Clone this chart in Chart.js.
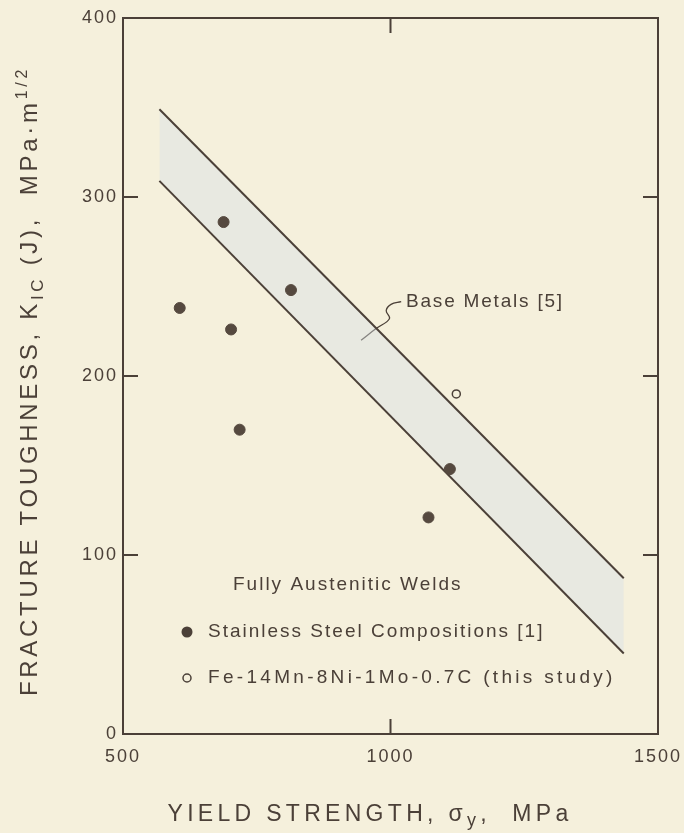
<!DOCTYPE html>
<html>
<head>
<meta charset="utf-8">
<script src="https://cdn.jsdelivr.net/npm/chart.js@4"></script>
<style>
  html, body { margin: 0; padding: 0; background: #f5f0dc; }
  canvas { display: block; }
</style>
</head>
<body>
<canvas id="kicChart" width="684" height="833"></canvas>
<script>
// ---- data ----
const stainlessX = [606, 688, 702, 718, 814, 1071, 1111];
const stainlessY = [238, 286, 226, 170, 248, 121, 148];
const feMnX = [1123];
const feMnY = [190];

// scatter band for base metals (upper / lower bounds)
const bandX = [568, 1436];
const bandUpper = [349, 87];
const bandLower = [309, 45];

// leader from "Base Metals [5]" label into the band
const leaderX = [1020, 1001, 992, 998, 973, 945];
const leaderY = [241.5, 240, 236.5, 232, 226.5, 220];

const xTicks = [500, 1000, 1500];
const yTicks = [0, 100, 200, 300, 400];

const INK = '#4b4038';
const FONT = "'Liberation Sans', Arial, sans-serif";

Chart.defaults.font.family = FONT;
Chart.defaults.color = INK;

const toPts = (xs, ys) => xs.map((x, i) => ({ x: x, y: ys[i] }));

/* -------------------- FRAME, TICKS, TEXT -------------------- */

const framePlugin = {
    id: 'frame',
    beforeDraw(chart) {
        // wider tick digits like the original lettering
        chart.ctx.letterSpacing = '2px';
    },
    afterDraw(chart) {
        const { ctx, chartArea: a, scales: { x, y } } = chart;
        const tick = 15;
        ctx.save();
        ctx.strokeStyle = INK;
        ctx.lineWidth = 2;
        ctx.strokeRect(a.left, a.top, a.right - a.left, a.bottom - a.top);

        // inner ticks
        ctx.beginPath();
        xTicks.slice(1, -1).forEach(v => {
            const px = x.getPixelForValue(v);
            ctx.moveTo(px, a.top); ctx.lineTo(px, a.top + tick);
            ctx.moveTo(px, a.bottom); ctx.lineTo(px, a.bottom - tick);
        });
        yTicks.slice(1, -1).forEach(v => {
            const py = y.getPixelForValue(v);
            ctx.moveTo(a.left, py); ctx.lineTo(a.left + tick, py);
            ctx.moveTo(a.right, py); ctx.lineTo(a.right - tick, py);
        });
        ctx.stroke();

        // legend inside plot
        ctx.fillStyle = INK;
        ctx.textBaseline = 'middle';
        ctx.font = '19px ' + FONT;
        ctx.letterSpacing = '2px';
        ctx.fillText('Fully Austenitic Welds', 233, 585);
        const ds = chart.data.datasets;
        ctx.beginPath(); ctx.arc(187, 632, 5.5, 0, Math.PI * 2); ctx.fill();
        ctx.fillText(ds[0].label, 208, 632);
        ctx.beginPath(); ctx.arc(187, 678, 4, 0, Math.PI * 2);
        ctx.lineWidth = 1.5; ctx.stroke();
        ctx.letterSpacing = '3.3px';
        ctx.fillText(ds[1].label, 208, 678);

        // band label
        ctx.letterSpacing = '1.8px';
        ctx.fillText('Base Metals [5]', 406, 302);

        // x title
        drawParts(ctx, [
            ['YIELD STRENGTH, ', 0, 23],
            ['\u03c3', 0, 23],
            ['y', 5, 18],
            [',  MPa', 0, 23]
        ], 370, 821, '4.3px');

        // y title (rotated)
        ctx.save();
        ctx.translate(37, 381);
        ctx.rotate(-Math.PI / 2);
        drawParts(ctx, [
            ['FRACTURE TOUGHNESS, K', 0, 24],
            ['IC', 6, 17],
            [' (J),  MPa\u00b7m', 0, 24],
            ['1/2', -10, 16]
        ], 0, 0, '3.7px');
        ctx.restore();
        ctx.restore();
        ctx.letterSpacing = '0px';
    }
};

function drawParts(ctx, parts, cx, baseY, spacing) {
    ctx.textBaseline = 'alphabetic';
    ctx.textAlign = 'left';
    ctx.letterSpacing = spacing;
    let total = 0;
    parts.forEach(p => { ctx.font = p[2] + 'px ' + FONT; total += ctx.measureText(p[0]).width; });
    let xPos = cx - total / 2;
    parts.forEach(p => {
        ctx.font = p[2] + 'px ' + FONT;
        ctx.fillText(p[0], xPos, baseY + p[1]);
        xPos += ctx.measureText(p[0]).width;
    });
}

/* -------------------- CHART -------------------- */

new Chart(document.getElementById('kicChart'), {
    type: 'scatter',
    data: {
        datasets: [
            {
                label: 'Stainless Steel Compositions [1]',
                data: toPts(stainlessX, stainlessY),
                backgroundColor: '#55493f',
                borderColor: '#55493f',
                pointRadius: 5.5,
                order: 0
            },
            {
                label: 'Fe-14Mn-8Ni-1Mo-0.7C (this study)',
                data: toPts(feMnX, feMnY),
                backgroundColor: 'rgba(0,0,0,0)',
                borderColor: INK,
                borderWidth: 1.5,
                pointRadius: 4,
                order: 0
            },
            {
                label: 'band upper',
                type: 'line',
                data: toPts(bandX, bandUpper),
                borderColor: INK,
                borderWidth: 2,
                pointRadius: 0,
                fill: false,
                order: 1
            },
            {
                label: 'band lower',
                type: 'line',
                data: toPts(bandX, bandLower),
                borderColor: INK,
                borderWidth: 2,
                pointRadius: 0,
                backgroundColor: 'rgba(214, 224, 230, 0.42)',
                fill: '-1',
                order: 1
            },
            {
                label: 'leader',
                type: 'line',
                data: toPts(leaderX, leaderY),
                borderColor: INK,
                borderWidth: 1.3,
                pointRadius: 0,
                tension: 0.4,
                fill: false,
                order: 1
            }
        ]
    },
    options: {
        responsive: false,
        animation: false,
        layout: { padding: { top: 18, right: 26, left: 0, bottom: 0 } },
        plugins: {
            legend: { display: false },
            tooltip: { enabled: false },
            filler: { propagate: false }
        },
        scales: {
            x: {
                type: 'linear',
                min: 500,
                max: 1500,
                afterBuildTicks: s => { s.ticks = xTicks.map(v => ({ value: v })); },
                afterFit: s => { s.height = 99; s.paddingRight = 0; s.paddingLeft = 0; },
                grid: { display: false, drawTicks: false },
                border: { display: false },
                ticks: { padding: 12, font: { size: 18 }, color: INK, maxRotation: 0, callback: v => String(v) }
            },
            y: {
                type: 'linear',
                min: 0,
                max: 400,
                afterBuildTicks: s => { s.ticks = yTicks.map(v => ({ value: v })); },
                afterFit: s => { s.width = 123; },
                grid: { display: false, drawTicks: false },
                border: { display: false },
                ticks: { padding: 5, font: { size: 18 }, color: INK }
            }
        }
    },
    plugins: [framePlugin]
});
</script>
</body>
</html>
